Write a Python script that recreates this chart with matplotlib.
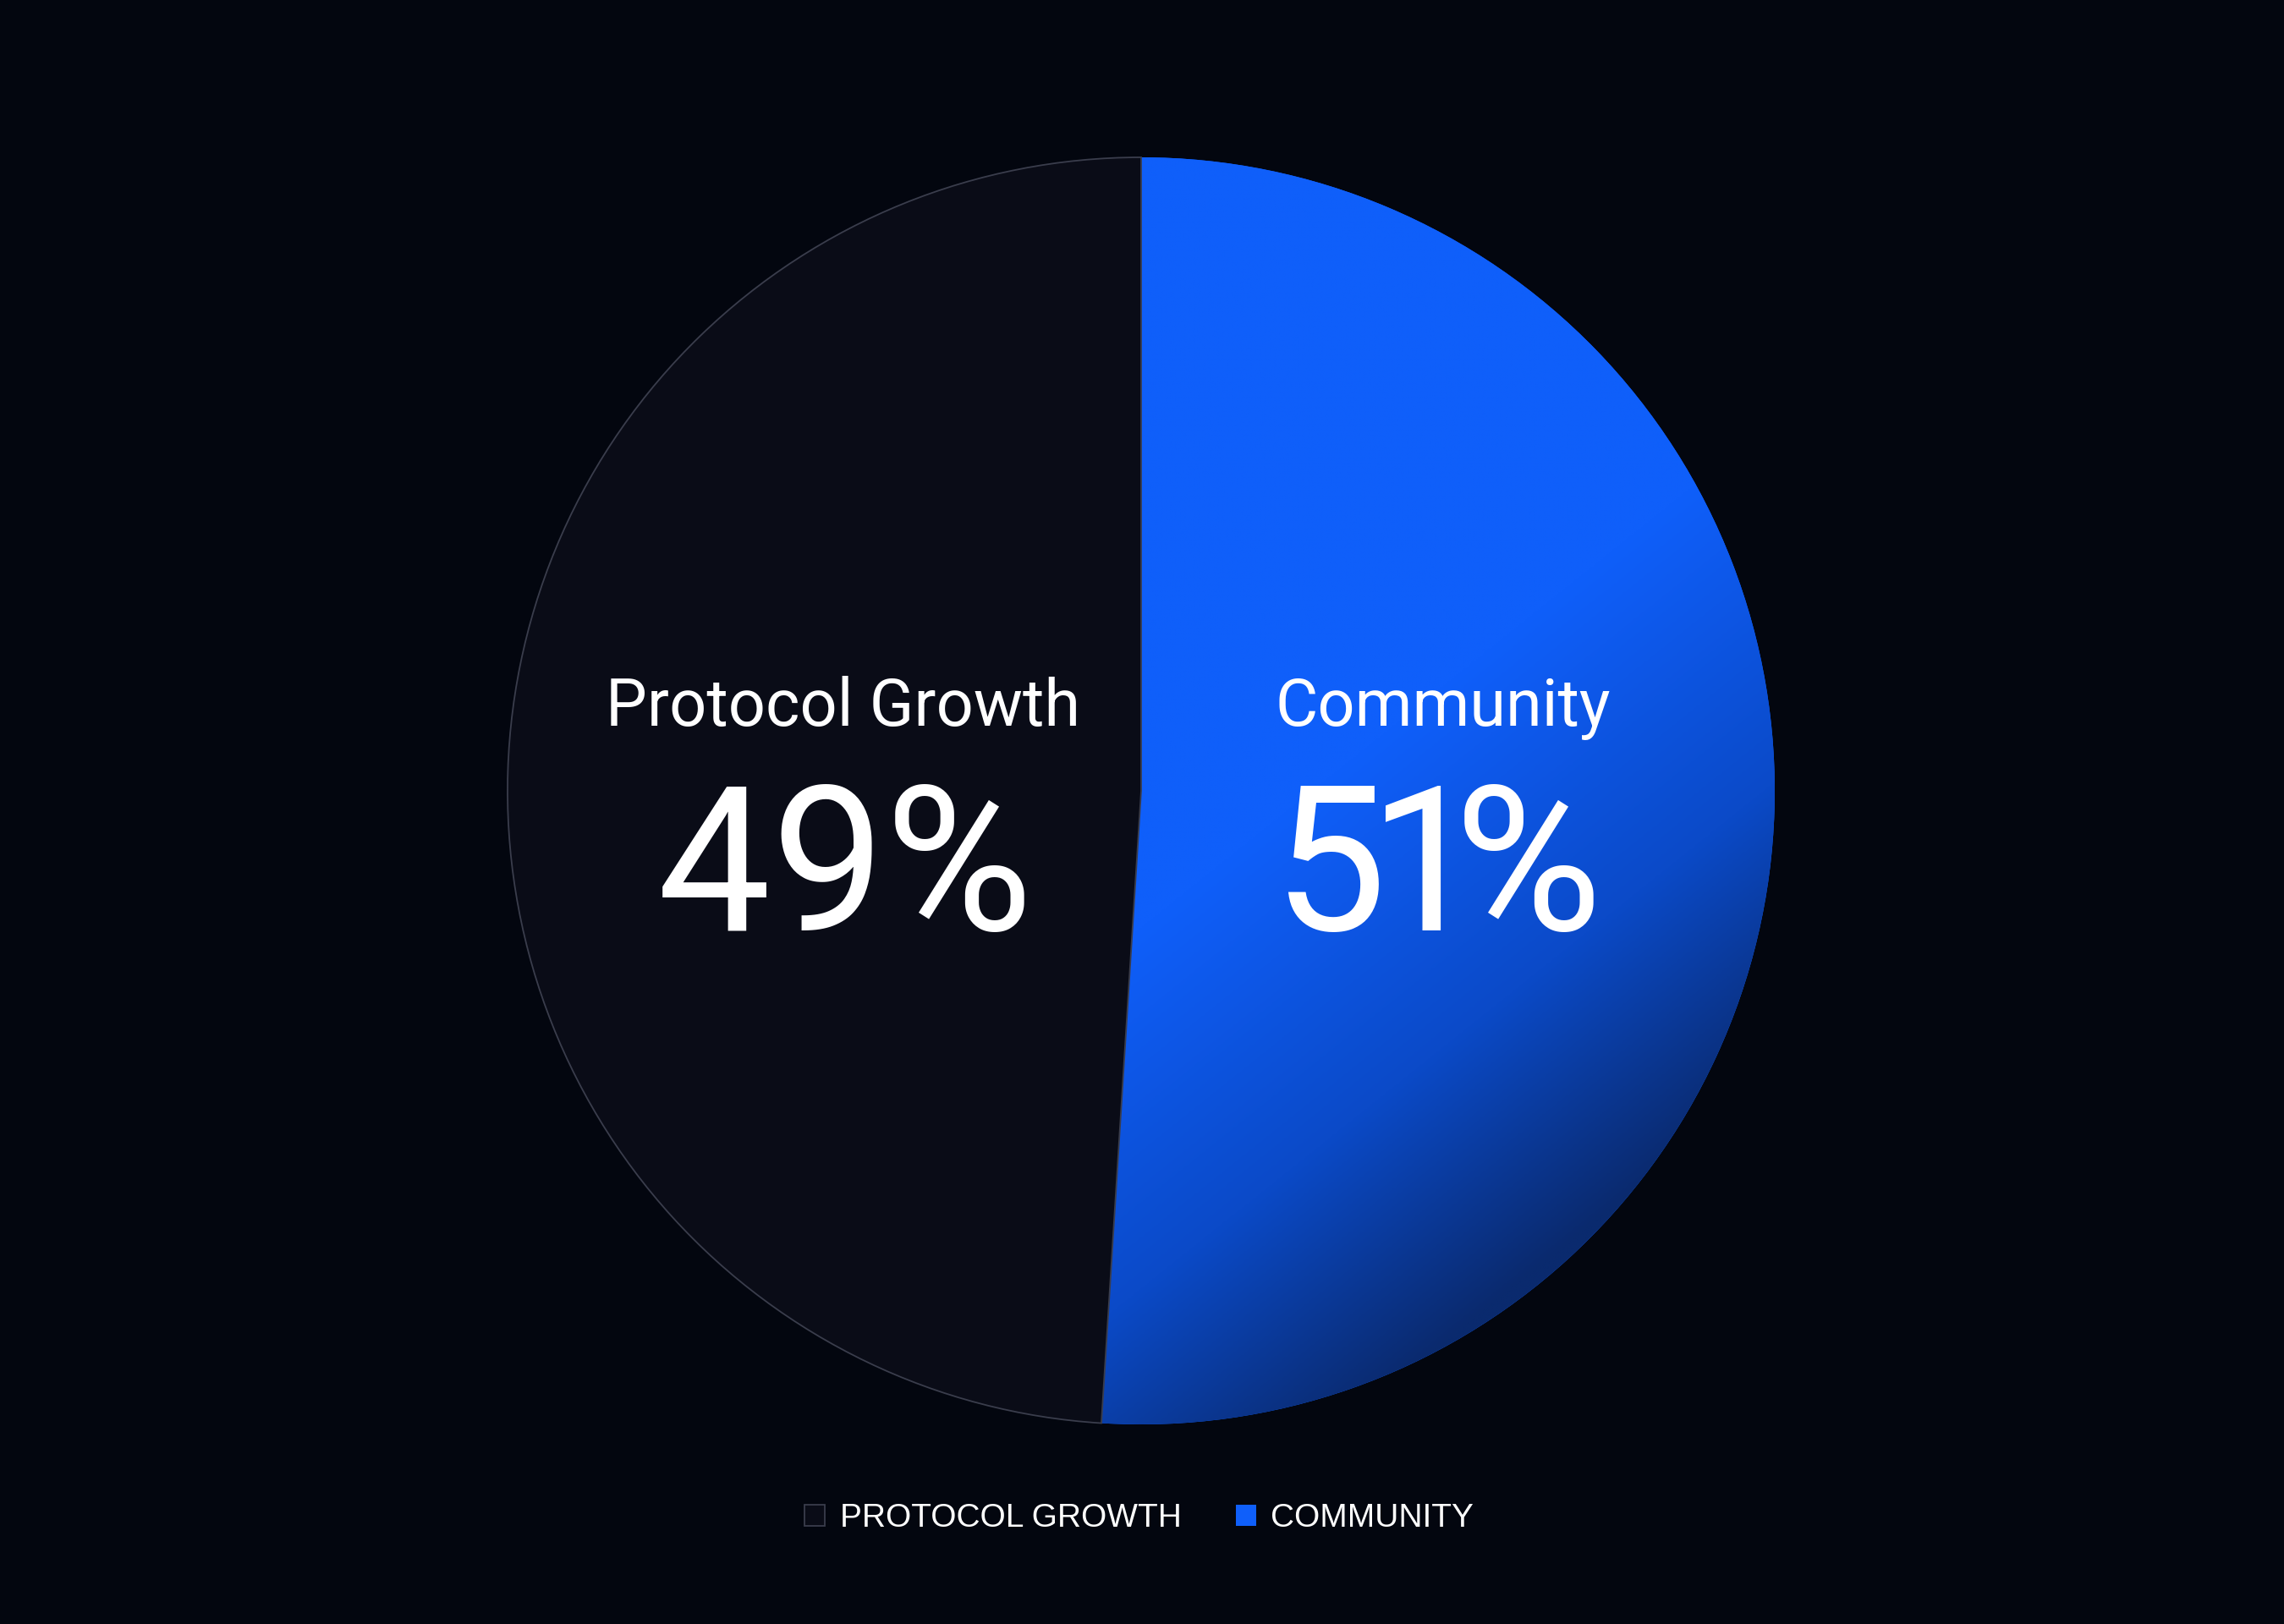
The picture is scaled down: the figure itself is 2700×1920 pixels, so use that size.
import numpy as np
import matplotlib
matplotlib.use("Agg")
import matplotlib.pyplot as plt
from matplotlib.colors import LinearSegmentedColormap
from matplotlib.text import Text

# ---- data ----
categories = ["Protocol Growth", "Community"]
legend_labels = ["PROTOCOL GROWTH", "COMMUNITY"]
shares = [49, 51]
pct_labels = ["49%", "51%"]

BG = "#03060f"
DARK = "#0a0c17"
EDGE = "#3a3d4c"
BLUE = "#0f5ffa"
BLUE_MID = "#0b4ac8"
BLUE_DARK = "#0a2a6e"

W, H, DPI = 2700, 1920, 100
fig = plt.figure(figsize=(W / DPI, H / DPI), dpi=DPI, facecolor=BG)

cx, cy, r = 1349, 935, 749
ax = fig.add_axes([(cx - r) / W, (H - cy - r) / H, 2 * r / W, 2 * r / H])
ax.set_facecolor(BG)

wedges, _ = ax.pie(
    shares,
    colors=[DARK, BLUE],
    startangle=90,
    counterclock=True,
    radius=1.0,
    wedgeprops=dict(linewidth=0),
)
wedges[0].set_edgecolor(EDGE)
wedges[0].set_linewidth(1.3)
wedges[0].set_zorder(3)
wedges[1].set_zorder(1)

# gradient fill for the community wedge (bright upper part -> dark lower right)
n = 800
xs = np.linspace(-1, 1, n)
ys = np.linspace(-1, 1, n)
X, Y = np.meshgrid(xs, ys)
t = np.clip((-0.16 + 0.599 * X - 0.749 * Y) / 0.78, 0, 1)
cmap = LinearSegmentedColormap.from_list(
    "blu", [(0, BLUE), (0.55, BLUE_MID), (1, BLUE_DARK)])
img = ax.imshow(t, extent=(-1, 1, -1, 1), origin="lower", cmap=cmap,
                vmin=0, vmax=1, zorder=2, interpolation="bilinear")
img.set_clip_path(wedges[1])

ax.set_xlim(-1, 1)
ax.set_ylim(-1, 1)
ax.set_aspect("auto")
ax.axis("off")

renderer = fig.canvas.get_renderer()

# per-glyph horizontal nudges (pixels) to mimic proportional figures
char_adjust = [[2, 2, 2], [20, 0, -34]]

label_x = [-0.470, 0.476]
PCT_SIZE = 172
for i in range(2):
    ax.text(label_x[i], 0.1028, categories[i], ha="center", va="baseline",
            color="white", fontsize=55.7, family="Roboto", zorder=5)
    s = pct_labels[i]
    advs = []
    for ch in s:
        tt = Text(0, 0, ch, fontsize=PCT_SIZE, family="Roboto")
        tt.set_figure(fig)
        advs.append(tt.get_window_extent(renderer).width)
    total = sum(advs)
    x0 = -total / 2
    for j, ch in enumerate(s):
        ax.annotate(ch, xy=(label_x[i], -0.2203), xytext=(x0 + char_adjust[i][j], 0),
                    textcoords="offset pixels", ha="left", va="baseline",
                    color="white", fontsize=PCT_SIZE, family="Roboto", zorder=5)
        x0 += advs[j]

# legend
leg = fig.legend(wedges, legend_labels, loc="center", ncol=2,
                 bbox_to_anchor=(1346.5 / W, 1 - 1795 / H),
                 frameon=False, prop=dict(family="Liberation Sans", size=28),
                 handlelength=0.62, handleheight=0.62, handletextpad=0.44,
                 columnspacing=1.65, labelcolor="white", borderpad=0)

fig.savefig("out.png", dpi=DPI, facecolor=BG)
